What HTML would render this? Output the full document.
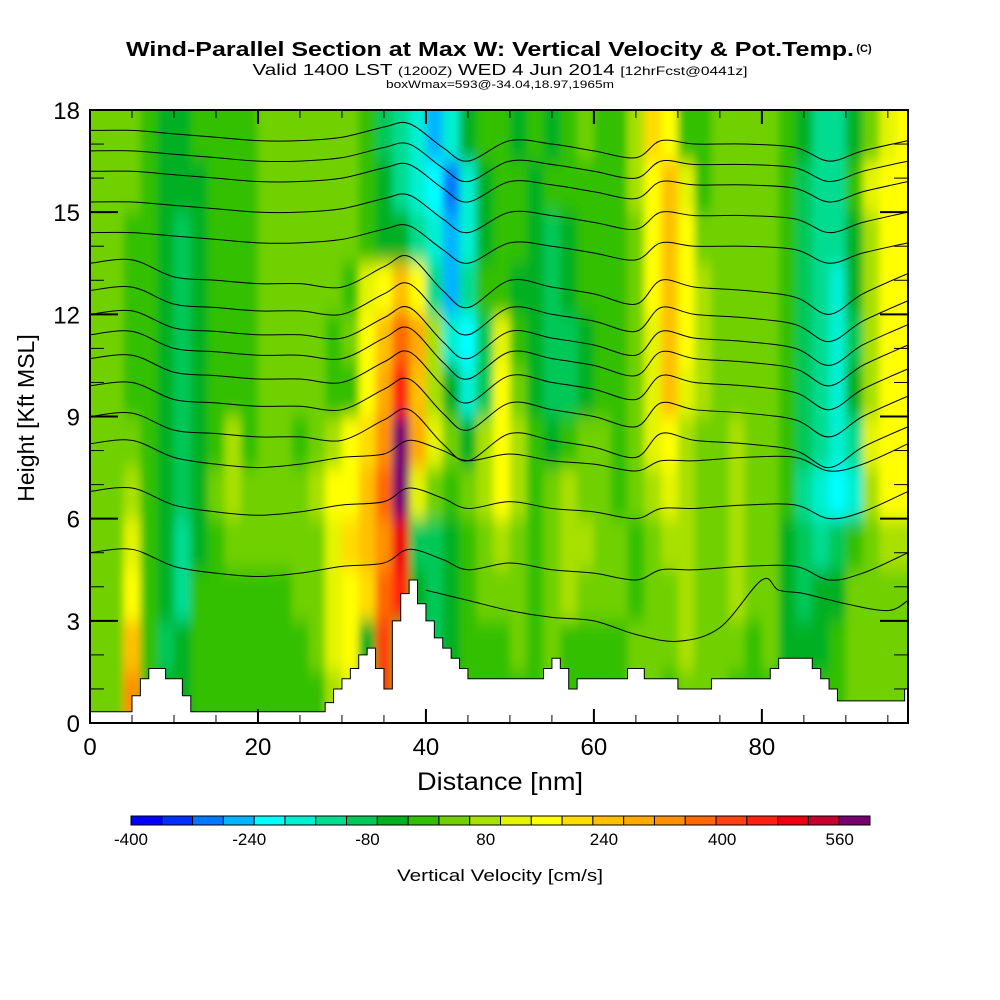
<!DOCTYPE html>
<html><head><meta charset="utf-8"><style>
html,body{margin:0;padding:0;background:#fff;}
svg{display:block;font-family:"Liberation Sans",Arial,sans-serif;}
</style></head><body>
<svg id="chart" width="1000" height="1000" viewBox="0 0 1000 1000">
<defs>
<clipPath id="plotclip"><rect x="90" y="110" width="818" height="613"/></clipPath>
<filter id="smooth" x="-5%" y="-5%" width="110%" height="110%"><feGaussianBlur stdDeviation="4 9"/></filter>
</defs>
<g>
<text x="490" y="56" text-anchor="middle" font-size="20" font-weight="bold" textLength="728" lengthAdjust="spacingAndGlyphs">Wind-Parallel Section at Max W: Vertical Velocity &amp; Pot.Temp.</text>
<text x="864" y="52" text-anchor="middle" font-size="11" font-weight="bold">(C)</text>
<text x="500" y="75" text-anchor="middle" font-size="16" textLength="495" lengthAdjust="spacingAndGlyphs">Valid 1400 LST <tspan font-size="12">(1200Z)</tspan> WED 4 Jun 2014 <tspan font-size="12">[12hrFcst@0441z]</tspan></text>
<text x="500" y="88" text-anchor="middle" font-size="11" textLength="228" lengthAdjust="spacingAndGlyphs">boxWmax=593@-34.04,18.97,1965m</text>
</g>
<g id="field" clip-path="url(#plotclip)"><g id="fieldInner" filter="url(#smooth)"></g></g>
<g id="contours" clip-path="url(#plotclip)"></g>
<g id="terrain" clip-path="url(#plotclip)"></g>
<rect x="90" y="110" width="818" height="613" fill="none" stroke="#000" stroke-width="2"/>
<g id="axes"></g>
<text x="500" y="790" text-anchor="middle" font-size="25" textLength="166" lengthAdjust="spacingAndGlyphs">Distance [nm]</text>
<text transform="translate(34,418) rotate(-90)" text-anchor="middle" font-size="23">Height [Kft MSL]</text>
<g id="cbar"></g>
<text x="500" y="881" text-anchor="middle" font-size="17" textLength="206" lengthAdjust="spacingAndGlyphs">Vertical Velocity [cm/s]</text>
</svg>
<script>
// ---- data ----
const palette = ["#0000ff","#0030ff","#0078ff","#00b4ff","#00ffff","#00f0d2","#00dc90","#00c858","#00b020","#30c000","#70d000","#a8e000","#e4f400","#ffff00","#ffdc00","#ffc000","#ffaa00","#ff9000","#ff6800","#ff4010","#ff2010","#ee0010","#c80030","#780070"];
const cbarLabels = ["-400","-240","-80","80","240","400","560"];
const cbarLabelPos = [0,0.16,0.32,0.48,0.64,0.80,0.959];
const xTicks = [0,20,40,60,80];
const yTicks = [0,3,6,9,12,15,18];
// velocity class grid: 12 rows (top 16.5-18 kft down to 0-1.5), 49 columns of 2 nm
const gridRows = [
"aaa9889999"+"aaaaaa9765"+"358998989a"+"99bed99aaa"+"a98668acd",
"aaa9888999"+"aaaaaa9865"+"4258998999"+"99bdfc9aaa"+"a97669cdd",
"aa99878999"+"aaaaaa9886"+"5358998789"+"99adfdaaaa"+"a97668bdd",
"aa99878999"+"aaaaa9cdfd"+"6369988789"+"99adfdbaaa"+"a97658bdd",
"aa99878999"+"aaaa9adfig"+"b547c98778"+"99acfdbaaa"+"a97657bdd",
"aa99878999"+"aaaa99dgkf"+"b857da8778"+"99acfcbaaa"+"a97658bdd",
"aaa98789b9"+"aa9abdehng"+"ca8bdb989a"+"a9acdbaaba"+"a97656cdd",
"aab9878aba"+"aaabddfinc"+"a9abdb9aba"+"a9abcbaaba"+"a96545bdd",
"aac98689aa"+"aaaacefhl7"+"789aba9abb"+"aa9abbaaba"+"a87679abb",
"aad9869999"+"99aacdeik8"+"789aaa9aba"+"aa9aabaaba"+"a8788aaaa",
"aaf9789999"+"999acd8j88"+"78999a9a99"+"99aaabaaa9"+"a8889aaaa",
"aah9889999"+"9999bc8j88"+"7899999a99"+"99aa9aaa99"+"98899aaaa"
];
// terrain height (kft) per 1 nm step
const terrain = [0.33,0.33,0.33,0.33,0.33,0.8,1.3,1.6,1.6,1.3,1.3,0.8,0.33,0.33,0.33,0.33,0.33,0.33,0.33,0.33,0.33,0.33,0.33,0.33,0.33,0.33,0.33,0.33,0.6,1.0,1.3,1.6,2.0,2.2,1.6,1.0,3.0,3.8,4.2,3.5,3.0,2.5,2.2,1.9,1.6,1.3,1.3,1.3,1.3,1.3,1.3,1.3,1.3,1.3,1.6,1.9,1.6,1.0,1.3,1.3,1.3,1.3,1.3,1.3,1.6,1.6,1.3,1.3,1.3,1.3,1.0,1.0,1.0,1.0,1.3,1.3,1.3,1.3,1.3,1.3,1.3,1.6,1.9,1.9,1.9,1.9,1.6,1.3,1.0,0.65,0.65,0.65,0.65,0.65,0.65,0.65,0.65,1.0,1.0];
// isentrope shapes
const contourX = [0,5,10,15,20,25,30,35,38,42,45,50,55,60,65,68,72,78,84,88,92,97.4];
const profileUpper = [0,0,-0.1,-0.2,-0.3,-0.3,-0.2,0.1,0.2,-0.5,-0.9,-0.3,-0.4,-0.6,-0.8,-0.3,-0.4,-0.4,-0.5,-0.9,-0.6,-0.3];
const profileMid = [0,0.1,-0.4,-0.5,-0.6,-0.6,-0.7,-0.1,0.2,-0.8,-1.3,-0.5,-0.7,-0.9,-1.2,-0.5,-0.7,-0.8,-1.0,-1.5,-0.9,-0.3];
const profileLower = [0,0.1,-0.4,-0.6,-0.7,-0.6,-0.4,-0.3,0.1,-0.2,-0.5,-0.3,-0.5,-0.6,-0.8,-0.5,-0.5,-0.4,-0.4,-0.8,-0.6,0];
const contourBases = [17.4,16.8,16.2,15.3,14.4,13.5,12.7,12.0,11.4,10.7,9.9,9.0,8.2,6.8,5.0];
const lowLineX = [40,45,50,55,60,65,70,75,80,82,85,90,95,97.4];
const lowLineH = [3.9,3.6,3.3,3.1,3.0,2.6,2.4,2.8,4.2,3.9,3.8,3.5,3.3,3.6];

// ---- scales ----
const X0=90,X1=908,Y0=723,Y1=110,XMAX=97.4,YMAX=18;
const sx = v => X0 + v/XMAX*(X1-X0);
const sy = v => Y0 - v/YMAX*(Y0-Y1);
const NS="http://www.w3.org/2000/svg";
function mk(tag, attrs, parent){const e=document.createElementNS(NS,tag);for(const k in attrs)e.setAttribute(k,attrs[k]);parent.appendChild(e);return e;}
const code = c => (c>='0'&&c<='9') ? +c : c.charCodeAt(0)-87;

// ---- field ----
const fieldG=document.getElementById('fieldInner');
gridRows.forEach((row,r)=>{
  const top=18-r*1.5, bot=top-1.5;
  for(let j=0;j<49;j++){
    const c = row[Math.min(j,row.length-1)];
    let xa=sx(j*2), xb=sx(j*2+2), ya=sy(top), yb=sy(bot);
    if(j===0) xa-=30; if(j===48) xb+=30;
    if(r===0) ya-=30; if(r===gridRows.length-1) yb+=30;
    const el=mk('rect',{x:xa,y:ya,width:xb-xa+0.5,height:yb-ya+0.5,fill:palette[code(c)]},fieldG);
    
    
  }
});

// ---- contours ----
function smoothPath(pts){
  let d=`M${pts[0][0]},${pts[0][1]}`;
  for(let i=0;i<pts.length-1;i++){
    const p0=pts[Math.max(0,i-1)],p1=pts[i],p2=pts[i+1],p3=pts[Math.min(pts.length-1,i+2)];
    const c1=[p1[0]+(p2[0]-p0[0])/6,p1[1]+(p2[1]-p0[1])/6];
    const c2=[p2[0]-(p3[0]-p1[0])/6,p2[1]-(p3[1]-p1[1])/6];
    d+=` C${c1[0]},${c1[1]} ${c2[0]},${c2[1]} ${p2[0]},${p2[1]}`;
  }
  return d;
}
const cg=document.getElementById('contours');
contourBases.forEach(b=>{
  const prof = b>=14 ? profileUpper : (b>=9 ? profileMid : profileLower);
  const pts = contourX.map((x,i)=>[sx(x), sy(b+prof[i])]);
  const p=mk('path',{d:smoothPath(pts),fill:'none',stroke:'#000','stroke-width':1},cg);
  
  
});
{
  const pts = lowLineX.map((x,i)=>[sx(x), sy(lowLineH[i])]);
  const p=mk('path',{d:smoothPath(pts),fill:'none',stroke:'#000','stroke-width':1},cg);
  
  
}

// ---- terrain ----
{
  let d=`M${sx(0)},${Y0+2}`;
  terrain.forEach((h,i)=>{ d+=` L${sx(i)},${sy(h)} L${sx(i+1)},${sy(h)}`; });
  d+=` L${sx(terrain.length)},${Y0+2} Z`;
  const p=mk('path',{d:d,fill:'#fff',stroke:'#000','stroke-width':1},document.getElementById('terrain'));
  
  
}

// ---- axes ----
const ax=document.getElementById('axes');
for(let v=0;v<=95;v+=5){
  const major = v%20===0, L = major?14:8;
  mk('line',{x1:sx(v),x2:sx(v),y1:Y0,y2:Y0-L,stroke:'#000','stroke-width':major?2:1},ax);
  mk('line',{x1:sx(v),x2:sx(v),y1:Y1,y2:Y1+L,stroke:'#000','stroke-width':major?2:1},ax);
}
for(let v=0;v<=18;v++){
  const major=v%3===0, L=major?28:14;
  mk('line',{x1:X0,x2:X0+L,y1:sy(v),y2:sy(v),stroke:'#000','stroke-width':major?2:1},ax);
  mk('line',{x1:X1,x2:X1-L,y1:sy(v),y2:sy(v),stroke:'#000','stroke-width':major?2:1},ax);
}
xTicks.forEach(v=>{
  const t=mk('text',{x:sx(v),y:755,'text-anchor':'middle','font-size':24},ax);
  t.textContent=v;
  
  
});
yTicks.forEach(v=>{
  const t=mk('text',{x:80,y:sy(v)+9,'text-anchor':'end','font-size':24},ax);
  t.textContent=v;
  
  
});

// ---- colorbar ----
const cb=document.getElementById('cbar');
const CB0=131,CB1=870,segW=(CB1-CB0)/palette.length;
palette.forEach((c,i)=>{
  const r=mk('rect',{x:CB0+i*segW,y:816,width:segW,height:9,fill:c,stroke:'#000','stroke-width':1},cb);
  
  
});
cbarLabels.forEach((l,i)=>{
  const t=mk('text',{x:CB0+cbarLabelPos[i]*(CB1-CB0),y:845,'text-anchor':'middle','font-size':17},cb);
  t.textContent=l;
  
  
});
</script>
</body></html>
